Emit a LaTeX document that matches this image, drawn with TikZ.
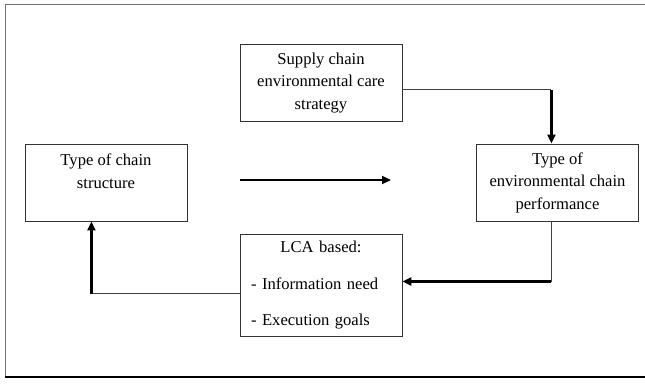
\documentclass[tikz,border=0pt]{standalone}
\usepackage{fontspec}
\setmainfont{Liberation Serif}
\usetikzlibrary{arrows.meta}
\begin{document}
\begin{tikzpicture}[x=1pt,y=-1pt,
  box/.style={draw=black!80, line width=0.9pt, minimum width=162pt, align=center,
    inner sep=0pt, font=\fontsize{16.6}{22.5}\selectfont},
  thin/.style={draw=black!75, line width=0.9pt},
  thick/.style={draw=black, line width=2.2pt, -{Triangle[length=9pt,width=8pt]}},
  frame/.style={draw=black!55, line width=0.9pt}]
\useasboundingbox (0,0) rectangle (645,383);
% outer frame
\coordinate (f1) at (5,377);
\coordinate (f2) at (5,4.5);
\coordinate (f3) at (645,4.5);
\coordinate (f4) at (645,377);
\draw[frame] (f1) -- (f2) -- (f3);
\draw[black, line width=2.5pt] (f1) -- (f4);
% boxes
\node[box, minimum height=77pt] (top) at (321,83) {Supply chain\\environmental care\\strategy};
\node[box, minimum height=77pt] (left) at (106,182.5) {Type of chain\\structure\\\mbox{}};
\node[box, minimum height=77pt] (right) at (557.5,182.5) {Type of\\environmental chain\\performance};
\node[box, minimum height=102.6pt, text width=140pt, align=left, inner xsep=11pt] (lca) at (321,285.3)
  {\makebox[140pt]{LCA based:}\\[14pt]- Information need\\[14pt]- Execution goals};
% middle arrow
\coordinate (m1) at (240,180);
\coordinate (m2) at (391,180);
\draw[thick] (m1) -- (m2);
% top -> right
\coordinate (c1) at (551.4,89.8);
\draw[thin] (top.east |- c1) -- (c1);
\draw[thick] (c1) -- (c1 |- right.north);
% right -> lca
\coordinate (c2) at (551.4,281.5);
\draw[thin] (c2 |- right.south) -- (c2);
\draw[thick] (c2) -- (lca.east |- c2);
% lca -> left
\coordinate (c3) at (91.4,293.7);
\draw[thin] (lca.west |- c3) -- (c3);
\draw[thick] (c3) -- (c3 |- left.south);
\end{tikzpicture}
\end{document}
